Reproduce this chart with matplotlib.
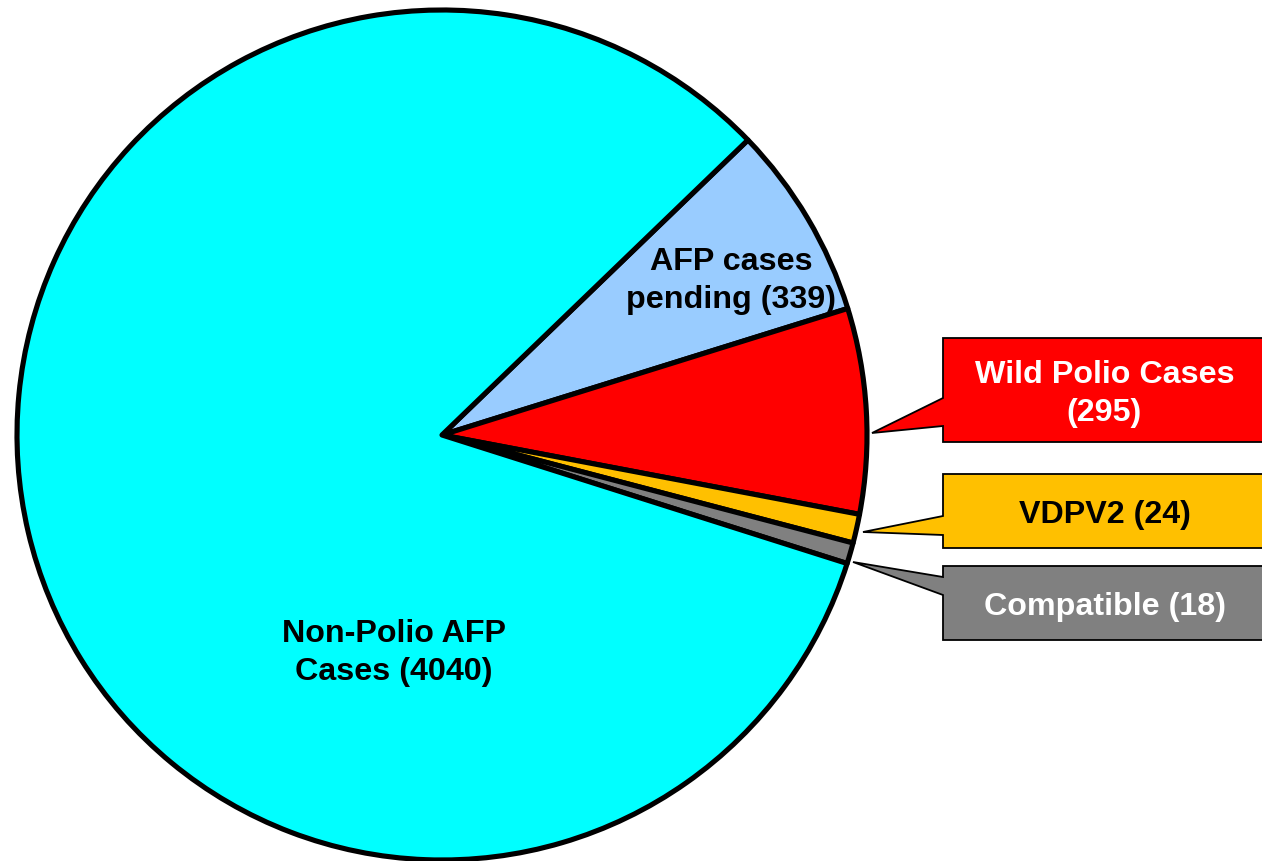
import matplotlib.pyplot as plt
from matplotlib.patches import Polygon

# Case counts as labelled on the chart
categories = ['AFP cases pending', 'Wild Polio Cases', 'VDPV2', 'Compatible', 'Non-Polio AFP Cases']
counts = [339, 295, 24, 18, 4040]
# The slices in the picture are not drawn in proportion to the counts,
# so these are the shares (%) of the circle
drawn_share = [7.4, 7.8, 1.1, 0.8, 82.9]
colors = ['#99CCFF', '#FF0000', '#FFC000', '#808080', '#00FFFF']

W, H = 1262, 861


def py(y):
    # picture rows (top down) -> data y (bottom up)
    return H - y


def main():
    plt.rcParams['font.family'] = ['Liberation Sans', 'DejaVu Sans']
    fig = plt.figure(figsize=(W / 100, H / 100), dpi=100)
    ax = fig.add_axes([0, 0, 1, 1])

    ax.pie(drawn_share, colors=colors, startangle=43.96, counterclock=False,
           center=(442, py(435)), radius=425, frame=True,
           wedgeprops=dict(edgecolor='black', linewidth=3.7, joinstyle='round'))
    ax.set_xlim(0, W)
    ax.set_ylim(0, H)
    ax.set_aspect('equal')
    ax.axis('off')

    font = dict(fontsize=23.2, fontweight='bold', ha='center', va='center', linespacing=1.33)

    # labels inside the pie
    ax.text(731, py(281), f'AFP cases\npending ({counts[0]})', color='black', **font)
    ax.text(394, py(653), f'Non-Polio AFP\nCases ({counts[4]})', color='black', **font)

    # callout boxes: (index, top, bottom, wedge top, wedge bottom, tip, text colour, text)
    callouts = [
        (1, 338, 442, 398, 426, (872, 433), 'white', f'Wild Polio Cases\n({counts[1]})'),
        (2, 474, 548, 516, 535, (863, 532), 'black', f'VDPV2 ({counts[2]})'),
        (3, 566, 640, 577, 595, (853, 562), 'white', f'Compatible ({counts[3]})'),
    ]
    x0, x1 = 943, 1266
    for i, top, bot, wt, wb, tip, tcol, txt in callouts:
        pts = [(x0, py(top)), (x1, py(top)), (x1, py(bot)), (x0, py(bot)),
               (x0, py(wb)), (tip[0], py(tip[1])), (x0, py(wt))]
        ax.add_patch(Polygon(pts, closed=True, facecolor=colors[i], edgecolor='black',
                             linewidth=1.3, joinstyle='miter', zorder=3))
        ax.text((x0 + x1) / 2, py((top + bot) / 2 + 4), txt, color=tcol, zorder=4, **font)

    fig.savefig('out.png', dpi=100, facecolor='white')


if __name__ == '__main__':
    main()
